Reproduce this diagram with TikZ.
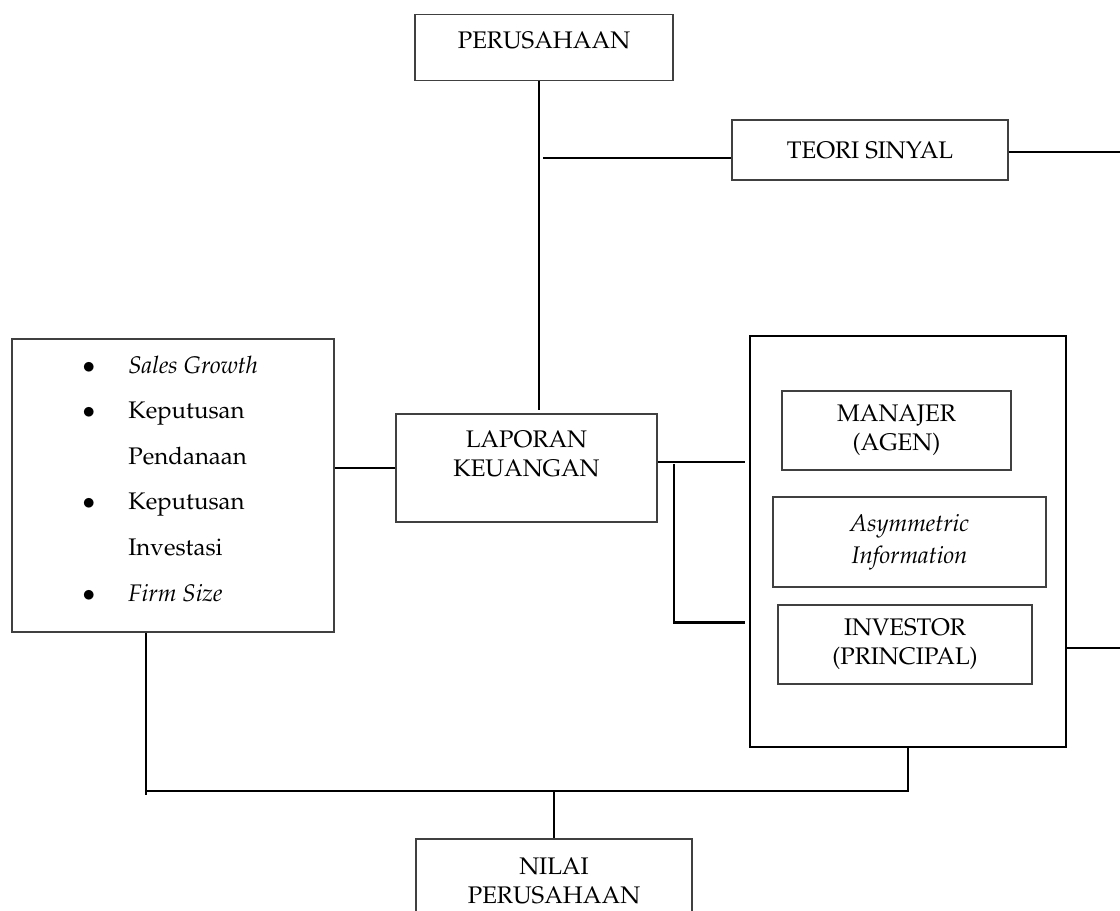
\documentclass[tikz,border=0pt]{standalone}
\usepackage[T1]{fontenc}
\usepackage{mathpazo}
\usetikzlibrary{positioning}

\tikzset{
  kotak/.style={draw=black!75, line width=0.7pt, inner sep=0pt},
  garis/.style={line width=1.05pt},
  teks/.style={align=center, inner sep=0pt, font=\fontsize{12}{14.5}\selectfont}
}

\begin{document}
\begin{tikzpicture}
  [x=0.5pt, y=-0.5pt]
  \useasboundingbox (0,0) rectangle (1120,911);
  \clip (0,0) rectangle (1120,911);

  % kotak-kotak
  \node[kotak, minimum width=129pt, minimum height=33pt] (perusahaan) at (544,47.7) {};
  \node[teks] (perusahaan-t) at (544,40) {PERUSAHAAN};
  \node[kotak, teks, minimum width=138pt, minimum height=30pt] (sinyal) at (870,150) {TEORI SINYAL};

  \node[kotak, minimum width=130.5pt, minimum height=54pt] (laporan) at (526.5,468) {};
  \node[teks] (laporan-t) at (526.5,453.5) {LAPORAN\\KEUANGAN};

  \node[kotak, minimum width=161pt, minimum height=146.5pt] (faktor) at (173,485.5) {};
  \node[teks, anchor=west] (daftar) at (82,478) {%
    \fontsize{12}{22.8}\selectfont
    \begin{tabular}{@{}p{23pt}@{}l@{}}
      $\bullet$ & \textit{Sales Growth}\\
      $\bullet$ & Keputusan\\
                & Pendanaan\\
      $\bullet$ & Keputusan\\
                & Investasi\\
      $\bullet$ & \textit{Firm Size}
    \end{tabular}};

  \node[kotak, draw=black, line width=1pt, minimum width=158pt, minimum height=205.5pt] (luar) at (908,541.5) {};
  \node[kotak, teks, minimum width=114.5pt, minimum height=39.5pt] (manajer) at (896.5,430.5) {MANAJER\\(AGEN)};
  \node[kotak, teks, minimum width=136.5pt, minimum height=45pt, font=\fontsize{12}{16}\selectfont\itshape] (asimetri) at (909.5,542) {Asymmetric\\Information};
  \node[kotak, teks, minimum width=127pt, minimum height=39.5pt] (investor) at (905,644.5) {INVESTOR\\(PRINCIPAL)};

  \node[kotak, minimum width=138pt, minimum height=60pt] (nilai) at (554,899) {};
  \node[teks] (nilai-t) at (554,881) {NILAI\\PERUSAHAAN};

  % garis penghubung
  \coordinate (poros) at (539,81);
  \coordinate (ujung1) at (1120,152);
  \coordinate (ujung2) at (1120,648);
  \coordinate (simpul) at (554,791);

  \draw[garis] (poros) -- ([yshift=1.5pt]poros |- laporan.north);
  \draw[garis] ([yshift=-4pt]sinyal.west) -- ([xshift=2pt,yshift=-4pt]sinyal.west -| poros);
  \draw[garis] (sinyal.east |- ujung1) -- (ujung1);
  \draw[garis] (laporan.west) -- (laporan.west -| faktor.east);
  \draw[garis] ([yshift=3pt]laporan.east) -- ([xshift=-2pt,yshift=3pt]laporan.east -| luar.west);
  \draw[garis] ([xshift=8pt,yshift=2pt]laporan.east) |- ([xshift=-2pt,yshift=11pt]luar.west |- investor.west);
  \draw[garis] (luar.east |- ujung2) -- (ujung2);

  \draw[garis] ([xshift=-13.5pt]faktor.south) -- ([xshift=-13.5pt,yshift=-2pt]faktor.south |- simpul);
  \draw[garis] ([xshift=-13.5pt]faktor.south |- simpul) -- (luar.south |- simpul) -- (luar.south);
  \draw[garis] (simpul) -- (nilai.north);

\end{tikzpicture}
\end{document}
